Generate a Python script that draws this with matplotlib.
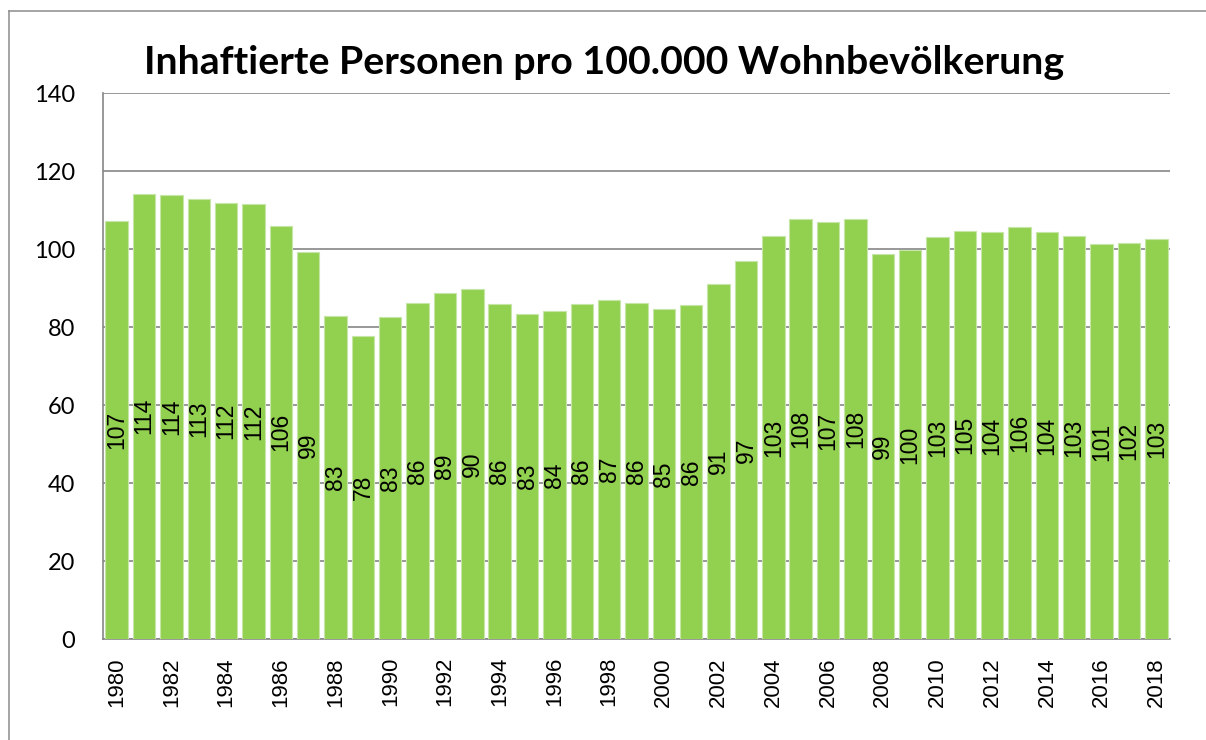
import matplotlib
matplotlib.use("Agg")
import matplotlib.pyplot as plt
from matplotlib.lines import Line2D
import numpy as np

years = list(range(1980, 2019))
values = [107.2, 114.2, 113.8, 112.7, 111.8, 111.6, 106.0, 99.2, 82.7, 77.6,
          82.6, 86.2, 88.7, 89.7, 86.0, 83.3, 84.1, 86.0, 86.8, 86.1,
          84.6, 85.7, 91.0, 96.8, 103.3, 107.6, 106.8, 107.6, 98.6, 99.7,
          103.1, 104.7, 104.3, 105.7, 104.3, 103.3, 101.3, 101.6, 102.6]
labels = ["107", "114", "114", "113", "112", "112", "106", "99", "83", "78",
          "83", "86", "89", "90", "86", "83", "84", "86", "87", "86",
          "85", "86", "91", "97", "103", "108", "107", "108", "99", "100",
          "103", "105", "104", "106", "104", "103", "101", "102", "103"]
yticks = [0, 20, 40, 60, 80, 100, 120, 140]
title = "Inhaftierte Personen pro 100.000 Wohnbevölkerung"

fig = plt.figure(figsize=(12.06, 7.40), dpi=100)
ax = fig.add_axes([103/1206, 101/740, (1170-103)/1206, (639-93)/740])

x = np.arange(len(years))
ax.bar(x, values, width=0.82, color="#92D050", edgecolor="#c6e6a8", linewidth=0.8, zorder=3)

for xi, v, lab in zip(x, values, labels):
    ax.text(xi, v/2, lab, rotation=90, ha="center", va="center",
            fontsize=16.5, family="Liberation Sans", color="black", zorder=4)

ax.set_xlim(-0.5, len(years)-0.5)
ax.set_ylim(0, 140)
ax.set_yticks(yticks)
ax.set_yticklabels([str(t) for t in yticks], family="Lato", fontsize=17)
ax.set_xticks(x[::2])
ax.set_xticklabels([str(y) for y in years[::2]], rotation=90, family="Liberation Sans", fontsize=16)
ax.tick_params(axis="x", length=0, pad=13)
ax.tick_params(axis="y", length=0, pad=20)
for lab in ax.get_xticklabels():
    lab.set_va("top")

ax.grid(axis="y", color="#868686", linewidth=1.2, zorder=0)
ax.set_axisbelow(True)
for s in ["top", "right"]:
    ax.spines[s].set_visible(False)
for s in ["left", "bottom"]:
    ax.spines[s].set_color("#868686")
    ax.spines[s].set_linewidth(1.2)

fig.text(604/1206, 1-62/740, title, ha="center", va="center",
         fontsize=28.3, fontweight="bold", family="Lato")

# outer chart frame (left and top edges visible)
fig.add_artist(Line2D([8.5/1206, 8.5/1206], [0, 1-10.7/740], transform=fig.transFigure, color="#8c8c8c", linewidth=1.1))
fig.add_artist(Line2D([8.5/1206, 1.0], [1-10.7/740, 1-10.7/740], transform=fig.transFigure, color="#8c8c8c", linewidth=1.1))

fig.savefig("out.png", dpi=100)
